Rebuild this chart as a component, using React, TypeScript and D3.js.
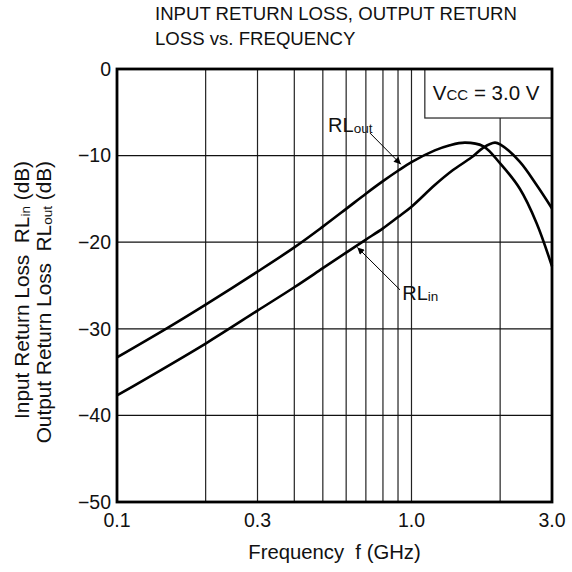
import * as d3 from 'd3';

// Frequency (GHz) sample points
const rlOutFreq = [0.1, 0.15, 0.2, 0.3, 0.4, 0.5, 0.6, 0.7, 0.8, 0.9, 1.0, 1.2, 1.35, 1.52, 1.75, 2.0, 2.33, 2.66, 3.0];
const rlOutDb = [-33.3, -29.8, -27.2, -23.4, -20.6, -18.2, -16.15, -14.4, -12.95, -11.75, -10.75, -9.4, -8.8, -8.5, -8.9, -10.9, -13.8, -17.8, -22.8];

const rlInFreq = [0.1, 0.2, 0.3, 0.4, 0.5, 0.6, 0.7, 0.8, 0.9, 1.0, 1.2, 1.38, 1.6, 1.75, 1.92, 2.0, 2.33, 2.66, 3.0];
const rlInDb = [-37.7, -31.7, -27.9, -25.2, -23.0, -21.2, -19.7, -18.4, -17.1, -15.9, -13.4, -11.7, -10.2, -9.1, -8.5, -8.7, -10.7, -13.4, -16.1];

const yTicks = [0, -10, -20, -30, -40, -50];
const xTicks = [0.1, 0.3, 1.0, 3.0];
const xTickLabels = ['0.1', '0.3', '1.0', '3.0'];
const xGrid = [0.2, 0.3, 0.4, 0.5, 0.6, 0.7, 0.8, 0.9, 1.0, 2.0];

const W = 572;
const H = 572;
const margin = { top: 69, right: 20, bottom: 70, left: 117 };
const FONT = 'Liberation Sans, Arial, Helvetica, sans-serif';

export default function App() {
  const innerW = W - margin.left - margin.right;
  const innerH = H - margin.top - margin.bottom;

  const x = d3.scaleLog().domain([0.1, 3.0]).range([0, innerW]);
  const y = d3.scaleLinear().domain([-50, 0]).range([innerH, 0]);

  const line = d3
    .line<[number, number]>()
    .x((d) => x(d[0]))
    .y((d) => y(d[1]))
    .curve(d3.curveCatmullRom.alpha(0.5));

  const outPath = line(rlOutFreq.map((f, i) => [f, rlOutDb[i]]) as [number, number][]) || '';
  const inPath = line(rlInFreq.map((f, i) => [f, rlInDb[i]]) as [number, number][]) || '';

  // annotation anchors in data space
  const outTip: [number, number] = [0.92, -11.0];
  const outFrom: [number, number] = [0.723, -7.4];
  const inTip: [number, number] = [0.655, -20.6];
  const inFrom: [number, number] = [0.914, -25.5];

  const boxX = x(1.11);
  const boxH = y(-5.66);

  return (
    <svg
      width={W}
      height={H}
      style={{ position: 'absolute', left: 0, top: 0, background: '#fff' }}
      fontFamily={FONT}
    >
      <defs>
        <marker id="arr" viewBox="0 0 10 10" refX="10" refY="5" markerWidth="9" markerHeight="7" orient="auto" markerUnits="userSpaceOnUse">
          <path d="M0,0 L10,5 L0,10 z" fill="#000" />
        </marker>
      </defs>

      <text x={155} y={20} fontSize={18.6} fill="#111">INPUT RETURN LOSS, OUTPUT RETURN</text>
      <text x={155} y={45} fontSize={18.6} fill="#111">LOSS vs. FREQUENCY</text>

      <g transform={`translate(${margin.left},${margin.top})`}>
        {/* grid */}
        {xGrid.map((f) => (
          <line key={'gx' + f} x1={x(f)} x2={x(f)} y1={0} y2={innerH} stroke="#222" strokeWidth={1.2} />
        ))}
        {yTicks.slice(1, -1).map((v) => (
          <line key={'gy' + v} x1={0} x2={innerW} y1={y(v)} y2={y(v)} stroke="#111" strokeWidth={1.2} />
        ))}

        {/* Vcc box */}
        <rect x={boxX} y={0} width={innerW - boxX} height={boxH} fill="#fff" stroke="#222" strokeWidth={1.2} />
        <text x={boxX + 8} y={boxH - 18} fontSize={20.5} fill="#111" style={{ whiteSpace: 'pre' }}>
          V<tspan fontSize={15}>CC</tspan> = 3.0 V
        </text>

        {/* curves */}
        <path d={outPath} fill="none" stroke="#000" strokeWidth={2.6} />
        <path d={inPath} fill="none" stroke="#000" strokeWidth={2.6} />

        {/* annotations */}
        <line x1={x(outFrom[0])} y1={y(outFrom[1])} x2={x(outTip[0])} y2={y(outTip[1])} stroke="#000" strokeWidth={1} markerEnd="url(#arr)" />
        <text x={x(0.521)} y={y(-7.3)} fontSize={20} fill="#111">
          RL<tspan fontSize={13.5} dy={1}>out</tspan>
        </text>
        <line x1={x(inFrom[0])} y1={y(inFrom[1])} x2={x(inTip[0])} y2={y(inTip[1])} stroke="#000" strokeWidth={1} markerEnd="url(#arr)" />
        <text x={x(0.93)} y={y(-26.7)} fontSize={20} fill="#111">
          RL<tspan fontSize={13.5} dy={1}>in</tspan>
        </text>

        {/* frame */}
        <rect x={0} y={0} width={innerW} height={innerH} fill="none" stroke="#000" strokeWidth={2.8} />

        {/* y ticks */}
        {yTicks.map((v) => (
          <text key={'ty' + v} x={-6} y={y(v)} dy="0.35em" textAnchor="end" fontSize={19.5} fill="#111">
            {v === 0 ? '0' : '\u2212' + Math.abs(v)}
          </text>
        ))}
        {/* x ticks */}
        {xTicks.map((f, i) => (
          <text key={'tx' + f} x={x(f)} y={innerH + 25} textAnchor="middle" fontSize={19.5} fill="#111">
            {xTickLabels[i]}
          </text>
        ))}
        <text x={innerW / 2} y={innerH + 57} textAnchor="middle" fontSize={20.3} fill="#111" style={{ whiteSpace: 'pre' }}>
          {'Frequency  f (GHz)'}
        </text>
      </g>

      {/* y axis title */}
      <g transform="translate(29,161) rotate(-90)">
        <text x={0} y={0} textAnchor="end" fontSize={20.8} fill="#111" style={{ whiteSpace: 'pre' }}>
          {'Input Return Loss  RL'}<tspan fontSize={13.5} dy={1}>in</tspan><tspan dy={-1}>{' (dB)'}</tspan>
        </text>
      </g>
      <g transform="translate(51,161) rotate(-90)">
        <text x={0} y={0} textAnchor="end" fontSize={20.8} fill="#111" style={{ whiteSpace: 'pre' }}>
          {'Output Return Loss  RL'}<tspan fontSize={13.5} dy={1}>out</tspan><tspan dy={-1}>{' (dB)'}</tspan>
        </text>
      </g>
    </svg>
  );
}
